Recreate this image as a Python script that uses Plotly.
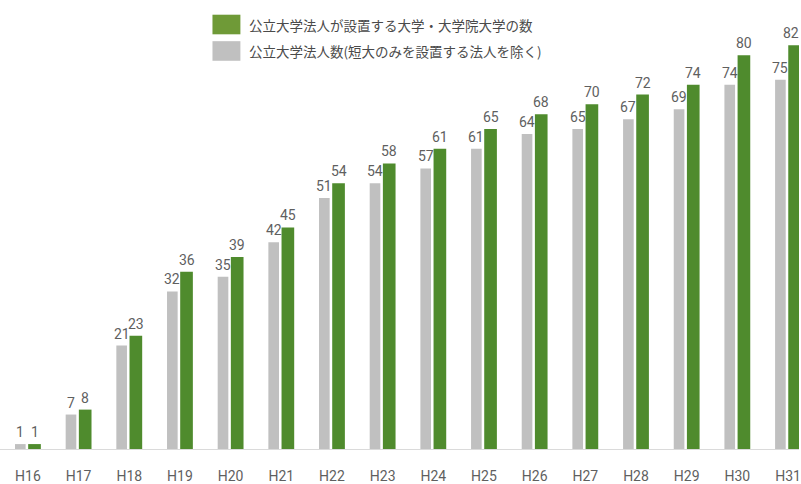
import plotly.graph_objects as go

# Fiscal years (Heisei era)
years = ["H16", "H17", "H18", "H19", "H20", "H21", "H22", "H23",
         "H24", "H25", "H26", "H27", "H28", "H29", "H30", "H31"]

# Number of public university corporations (excluding those that only run junior colleges)
corporations = [1, 7, 21, 32, 35, 42, 51, 54, 57, 61, 64, 65, 67, 69, 74, 75]

# Number of universities / graduate universities established by those corporations
universities = [1, 8, 23, 36, 39, 45, 54, 58, 61, 65, 68, 70, 72, 74, 80, 82]

legend_labels = [
    "公立大学法人が設置する大学・大学院大学の数",
    "公立大学法人数(短大のみを設置する法人を除く)",
]

GREEN = "#4f8b2d"
GREEN_KEY = "#6f9a37"
GRAY = "#c0c0c0"
TEXT = "#5f5f5f"
NUM_FONT = "Roboto, sans-serif"
JP_FONT = "Noto Sans CJK JP, sans-serif"

idx = list(range(len(years)))

GRAY_OFF, GRAY_W = -0.255, 0.21
GREEN_OFF, GREEN_W = 0.005, 0.25

W, H = 801, 484

fig = go.Figure()
fig.add_trace(go.Bar(
    x=idx, y=corporations, name=legend_labels[1],
    marker=dict(color=GRAY, line=dict(width=0)),
    offset=GRAY_OFF, width=GRAY_W, hoverinfo="skip",
))
fig.add_trace(go.Bar(
    x=idx, y=universities, name=legend_labels[0],
    marker=dict(color=GREEN, line=dict(width=0)),
    offset=GREEN_OFF, width=GREEN_W, hoverinfo="skip",
))

# Value labels above each bar
annotations = []
last = len(years) - 1
for i, (c, u) in enumerate(zip(corporations, universities)):
    annotations.append(dict(
        x=i + GRAY_OFF + GRAY_W / 2, y=c, xref="x", yref="y",
        text=str(c), showarrow=False, yanchor="bottom", yshift=2,
        font=dict(family=NUM_FONT, size=14, color=TEXT),
    ))
    annotations.append(dict(
        x=i + GREEN_OFF + GREEN_W / 2, y=u, xref="x", yref="y",
        text=str(u), showarrow=False, yanchor="bottom", yshift=2,
        xshift=-4 if i == last else 0,
        font=dict(family=NUM_FONT, size=14, color=TEXT),
    ))

# Legend keys drawn as large swatches with labels
shapes = []
key_colors = [GREEN_KEY, GRAY]
key_tops = [15, 42]
for col, top, label in zip(key_colors, key_tops, legend_labels):
    shapes.append(dict(
        type="rect", xref="paper", yref="paper",
        x0=213 / W, x1=241 / W,
        y0=1 - (top + 20) / 458, y1=1 - top / 458,
        fillcolor=col, line=dict(width=0), layer="above",
    ))
    annotations.append(dict(
        xref="paper", yref="paper", x=248 / W, y=1 - (top + 10) / 458,
        xanchor="left", yanchor="middle", showarrow=False,
        text=label, font=dict(family=JP_FONT, size=13.5, color="#4a4a4a"),
    ))

fig.update_layout(
    width=W, height=H,
    margin=dict(l=0, r=0, t=0, b=26),
    paper_bgcolor="white", plot_bgcolor="white",
    barmode="overlay", showlegend=False,
    annotations=annotations, shapes=shapes,
    xaxis=dict(
        range=[-0.551, 15.217], tickmode="array", tickvals=idx, ticktext=years,
        showgrid=False, zeroline=False, showline=True,
        linecolor="#dadada", linewidth=1, ticks="",
        tickfont=dict(family=NUM_FONT, size=14, color=TEXT),
        ticklabelstandoff=14, ticklabeloverflow="allow", fixedrange=True,
    ),
    yaxis=dict(
        range=[0, 91.2], visible=False, showgrid=False, zeroline=False,
        fixedrange=True,
    ),
)

fig.write_html("out.html")
